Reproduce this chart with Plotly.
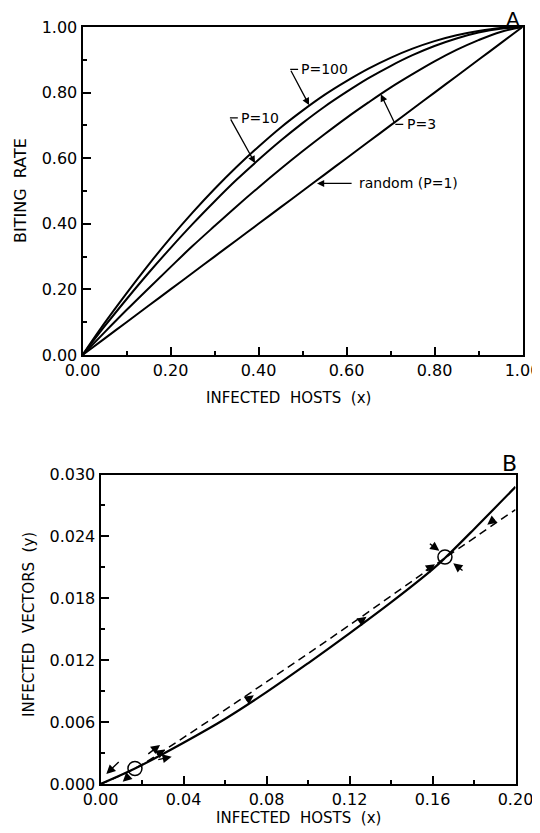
import plotly.graph_objects as go

# ---------------- Panel A data ----------------
host_x = [0.00, 0.05, 0.10, 0.15, 0.20, 0.25, 0.30, 0.35, 0.40, 0.45, 0.50,
          0.55, 0.60, 0.65, 0.70, 0.75, 0.80, 0.85, 0.90, 0.95, 1.00]
bite_p100 = [0.000, 0.097, 0.188, 0.275, 0.357, 0.434, 0.506, 0.573, 0.635, 0.693, 0.745,
             0.793, 0.835, 0.873, 0.906, 0.934, 0.957, 0.975, 0.988, 0.997, 1.000]
bite_p10 = [0.000, 0.087, 0.170, 0.250, 0.326, 0.399, 0.468, 0.534, 0.595, 0.653, 0.707,
            0.757, 0.802, 0.844, 0.881, 0.914, 0.942, 0.965, 0.983, 0.995, 1.000]
bite_p3 = [0.000, 0.069, 0.137, 0.203, 0.268, 0.332, 0.393, 0.453, 0.511, 0.567, 0.621,
           0.673, 0.723, 0.770, 0.815, 0.856, 0.895, 0.930, 0.960, 0.985, 1.000]
bite_random = [0.00, 0.05, 0.10, 0.15, 0.20, 0.25, 0.30, 0.35, 0.40, 0.45, 0.50,
               0.55, 0.60, 0.65, 0.70, 0.75, 0.80, 0.85, 0.90, 0.95, 1.00]

# labels: (text, corner x, corner y, tip x, tip y)
curve_labels = [
    ("P=100", 0.472, 0.871, 0.515, 0.762),
    ("P=10", 0.335, 0.723, 0.392, 0.585),
    ("P=3", 0.711, 0.703, 0.678, 0.795),
]
random_label = ("random (P=1)", 0.615, 0.523, 0.533, 0.523)

# ---------------- Panel B data ----------------
vec_x_solid = [0.000, 0.0166, 0.040, 0.060, 0.080, 0.100, 0.120, 0.140, 0.160, 0.166, 0.180, 0.200]
vec_y_solid = [0.0000, 0.0015, 0.0040, 0.0063, 0.0089, 0.0117, 0.0146, 0.0176, 0.0208, 0.0219, 0.0247, 0.0288]
vec_x_dash = [0.000, 0.0166, 0.040, 0.080, 0.120, 0.166, 0.200]
vec_y_dash = [0.0000, 0.0015, 0.0045, 0.0099, 0.0154, 0.0219, 0.0266]
equil_x = [0.0166, 0.166]
equil_y = [0.0015, 0.0220]

# small flow arrows: (tail x, tail y, head x, head y)
flow_arrows = [
    (0.0095, 0.00227, 0.0028, 0.00097),
    (0.0142, 0.00087, 0.0107, 0.00022),
    (0.0223, 0.00281, 0.0287, 0.00378),
    (0.0271, 0.00233, 0.0343, 0.00265),
    (0.0265, 0.00275, 0.0310, 0.00335),
    (0.0696, 0.00800, 0.0739, 0.00860),
    (0.1241, 0.01560, 0.1282, 0.01620),
    (0.1560, 0.02060, 0.1612, 0.02130),
    (0.1580, 0.02339, 0.1633, 0.02261),
    (0.1752, 0.02058, 0.1700, 0.02139),
    (0.1905, 0.02578, 0.1864, 0.02514),
]

FONT = "DejaVu Sans"
OFF = 8  # default page body margin
W, H = 540 - OFF, 833 - OFF


def px(x):
    return (x - OFF) / W


def py(y):
    return 1 - (y - OFF) / H


# pixel frames in page coordinates
A_l, A_r, A_t, A_b = 82.5, 522.5, 27, 355
B_l, B_r, B_t, B_b = 100.5, 515.5, 474.5, 784

fig = go.Figure()
for ys in (bite_p100, bite_p10, bite_p3, bite_random):
    fig.add_trace(go.Scatter(x=host_x, y=ys, mode="lines", line=dict(color="black", width=2, shape="spline"),
                             xaxis="x", yaxis="y", showlegend=False, hoverinfo="skip"))

fig.add_trace(go.Scatter(x=vec_x_solid, y=vec_y_solid, mode="lines",
                         line=dict(color="black", width=2.2, shape="spline"),
                         xaxis="x2", yaxis="y2", showlegend=False))
fig.add_trace(go.Scatter(x=vec_x_dash, y=vec_y_dash, mode="lines",
                         line=dict(color="black", width=1.5, dash="8px,5px", shape="spline"),
                         xaxis="x2", yaxis="y2", showlegend=False))
fig.add_trace(go.Scatter(x=equil_x, y=equil_y, mode="markers",
                         marker=dict(symbol="circle-open", size=14, color="black", line=dict(width=1.5)),
                         xaxis="x2", yaxis="y2", showlegend=False))

annotations = []
shapes = []
for text, cx, cy, tx, ty in curve_labels:
    annotations.append(dict(x=tx, y=ty, ax=cx, ay=cy, xref="x", yref="y", axref="x", ayref="y",
                            text="", showarrow=True, arrowhead=2, arrowsize=1.1, arrowwidth=1.3,
                            arrowcolor="black"))
    shapes.append(dict(type="line", xref="x", yref="y", x0=cx, y0=cy, x1=cx + 0.018, y1=cy,
                       line=dict(color="black", width=1.3)))
    annotations.append(dict(x=cx + 0.021, y=cy, xref="x", yref="y", text=text, showarrow=False,
                            xanchor="left", yanchor="middle", font=dict(family=FONT, size=14, color="black")))
rt, rtx, rty, rhx, rhy = random_label
annotations.append(dict(x=rhx, y=rhy, ax=rtx, ay=rty, xref="x", yref="y", axref="x", ayref="y",
                        text="", showarrow=True, arrowhead=2, arrowsize=1.1, arrowwidth=1.3, arrowcolor="black"))
annotations.append(dict(x=rtx + 0.008, y=rty, xref="x", yref="y", text=rt, showarrow=False,
                        xanchor="left", yanchor="middle", font=dict(family=FONT, size=14, color="black")))

for tx, ty, hx, hy in flow_arrows:
    annotations.append(dict(x=hx, y=hy, ax=tx, ay=ty, xref="x2", yref="y2", axref="x2", ayref="y2",
                            text="", showarrow=True, arrowhead=2, arrowsize=1.3, arrowwidth=1.4,
                            arrowcolor="black"))

# panel letters and axis titles
annotations += [
    dict(x=px(513), y=py(19), xref="paper", yref="paper", text="A", showarrow=False,
         font=dict(family=FONT, size=20, color="black"), xanchor="center", yanchor="middle"),
    dict(x=px(509), y=py(463), xref="paper", yref="paper", text="B", showarrow=False,
         font=dict(family=FONT, size=22, color="black"), xanchor="center", yanchor="middle"),
    dict(x=px(20), y=py(191), xref="paper", yref="paper", text="BITING\u00a0\u00a0RATE", textangle=-90,
         showarrow=False, font=dict(family=FONT, size=16, color="black"), xanchor="center", yanchor="middle"),
    dict(x=px(288), y=py(398), xref="paper", yref="paper", text="INFECTED\u00a0\u00a0HOSTS\u00a0\u00a0(x)",
         showarrow=False, font=dict(family=FONT, size=15, color="black"), xanchor="center", yanchor="middle"),
    dict(x=px(29), y=py(625), xref="paper", yref="paper", text="INFECTED\u00a0\u00a0VECTORS\u00a0\u00a0(y)",
         textangle=-90, showarrow=False, font=dict(family=FONT, size=15, color="black"),
         xanchor="center", yanchor="middle"),
    dict(x=px(298), y=py(818), xref="paper", yref="paper", text="INFECTED\u00a0\u00a0HOSTS\u00a0\u00a0(x)",
         showarrow=False, font=dict(family=FONT, size=15, color="black"), xanchor="center", yanchor="middle"),
]

tickfont = dict(family=FONT, size=16, color="black")
common = dict(showgrid=False, zeroline=False, showline=True, linecolor="black", linewidth=2,
              mirror=True, ticks="inside", ticklen=8, tickwidth=1.5, tickcolor="black",
              tickfont=tickfont, fixedrange=True, automargin=False, ticklabeloverflow="allow")

fig.update_layout(
    width=W, height=H, margin=dict(l=0, r=0, t=0, b=0, autoexpand=False),
    paper_bgcolor="white", plot_bgcolor="white", showlegend=False,
    xaxis=dict(domain=[px(A_l), px(A_r)], range=[0, 1], tickvals=[0, 0.2, 0.4, 0.6, 0.8, 1.0],
               tickformat=".2f", anchor="y",
               minor=dict(tickvals=[0.1, 0.3, 0.5, 0.7, 0.9], ticks="inside", ticklen=4,
                          tickwidth=1.5, tickcolor="black"), **common),
    yaxis=dict(domain=[py(A_b), py(A_t)], range=[0, 1], tickvals=[0, 0.2, 0.4, 0.6, 0.8, 1.0],
               tickformat=".2f", anchor="x",
               minor=dict(tickvals=[0.1, 0.3, 0.5, 0.7, 0.9], ticks="inside", ticklen=4,
                          tickwidth=1.5, tickcolor="black"), **common),
    xaxis2=dict(domain=[px(B_l), px(B_r)], range=[0, 0.2], tickvals=[0, 0.04, 0.08, 0.12, 0.16, 0.2],
                tickformat=".2f", anchor="y2",
                minor=dict(tickvals=[0.02, 0.06, 0.10, 0.14, 0.18], ticks="inside", ticklen=4,
                           tickwidth=1.5, tickcolor="black"), **common),
    yaxis2=dict(domain=[py(B_b), py(B_t)], range=[0, 0.03],
                tickvals=[0, 0.006, 0.012, 0.018, 0.024, 0.030], tickformat=".3f", anchor="x2",
                minor=dict(tickvals=[0.003, 0.009, 0.015, 0.021, 0.027], ticks="inside", ticklen=4,
                           tickwidth=1.5, tickcolor="black"), **common),
    annotations=annotations, shapes=shapes,
)

fig.write_html("out.html")
